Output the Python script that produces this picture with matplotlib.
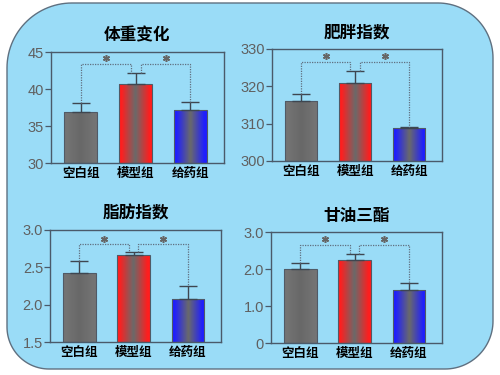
import numpy as np
import matplotlib
matplotlib.use("Agg")
import matplotlib.pyplot as plt
from matplotlib.path import Path
from matplotlib.patches import PathPatch

plt.rcParams['font.family'] = ['Noto Sans CJK SC', 'DejaVu Sans']

categories = ["空白组", "模型组", "给药组"]
titles = ["体重变化", "肥胖指数", "脂肪指数", "甘油三酯"]
means = [
    [36.9, 40.7, 37.2],
    [316.1, 320.9, 308.8],
    [2.43, 2.66, 2.07],
    [2.00, 2.24, 1.42],
]
errs = [
    [1.2, 1.5, 1.0],
    [1.8, 3.2, 0.3],
    [0.16, 0.04, 0.18],
    [0.15, 0.16, 0.19],
]
ylims = [(30, 45), (300, 330), (1.5, 3.0), (0, 3.0)]
yticks = [[30, 35, 40, 45], [300, 310, 320, 330], [1.5, 2.0, 2.5, 3.0], [0, 1.0, 2.0, 3.0]]
ytick_labels = [["30", "35", "40", "45"], ["300", "310", "320", "330"],
                ["1.5", "2.0", "2.5", "3.0"], ["0", "1.0", "2.0", "3.0"]]
bracket_y = [43.4, 326.5, 2.81, 2.65]
edge_colors = ["#747474", "#ff1e1e", "#1e1eff"]
center_colors = ["#686868", "#6a6a6a", "#6a6a6a"]

W, H = 500, 375
fig = plt.figure(figsize=(W / 100, H / 100), dpi=100)
fig.patch.set_facecolor("white")

# background rounded panel with per-corner radii (pixels)
def rounded_path(x0, y0, x1, y1, r_tl, r_tr, r_br, r_bl):
    def arc(cx, cy, r, a0, a1):
        t = np.linspace(np.radians(a0), np.radians(a1), 30)
        return [(cx + r * np.cos(a), cy + r * np.sin(a)) for a in t]
    pts = []
    pts += arc(x0 + r_bl, y0 + r_bl, r_bl, 180, 270)
    pts += arc(x1 - r_br, y0 + r_br, r_br, 270, 360)
    pts += arc(x1 - r_tr, y1 - r_tr, r_tr, 0, 90)
    pts += arc(x0 + r_tl, y1 - r_tl, r_tl, 90, 180)
    pts.append(pts[0])
    codes = [Path.MOVETO] + [Path.LINETO] * (len(pts) - 2) + [Path.CLOSEPOLY]
    pts = [(x / W, y / H) for x, y in pts]
    return Path(pts, codes)

bg = PathPatch(rounded_path(7, 6, 493, 372, 65, 55, 48, 42),
               facecolor="#9adcf7", edgecolor="#5f7080", lw=1.0,
               transform=fig.transFigure, zorder=-10)
fig.patches.append(bg)

positions = [
    [0.102, 0.5653, 0.346, 0.296],
    [0.544, 0.5707, 0.340, 0.2987],
    [0.100, 0.0880, 0.342, 0.2987],
    [0.542, 0.0853, 0.342, 0.296],
]

x = np.arange(len(categories))
bw = 0.6

def gradient(c_edge, c_center):
    ce = np.array(matplotlib.colors.to_rgb(c_edge))
    cc = np.array(matplotlib.colors.to_rgb(c_center))
    t = np.linspace(-1, 1, 64)
    w = np.clip(np.abs(t) * 1.15, 0, 1)
    img = (cc[None, :] * (1 - w[:, None]) + ce[None, :] * w[:, None])
    return img[None, :, :]

for i in range(4):
    ax = fig.add_axes(positions[i])
    ax.set_facecolor("none")
    ax.set_zorder(1)
    ylo, yhi = ylims[i]
    bars = ax.bar(x, [m - ylo for m in means[i]], bw, bottom=ylo,
                  color="none", edgecolor="#505a66", lw=0.8, zorder=3)
    for j, b in enumerate(bars):
        im = ax.imshow(gradient(edge_colors[j], center_colors[j]),
                       extent=[x[j] - bw / 2, x[j] + bw / 2, ylo, means[i][j]],
                       aspect="auto", zorder=2, interpolation="bilinear")
        im.set_clip_path(b)
    ax.set_aspect("auto")
    ax.set_xlim(-0.54, 2.61)
    ax.set_ylim(ylo, yhi)
    ax.errorbar(x, means[i], yerr=[np.zeros(3), errs[i]], fmt="none",
                ecolor="#3e4650", elinewidth=1.0, capsize=6.8, capthick=1.0, zorder=4)
    tops = [m + e for m, e in zip(means[i], errs[i])]
    by = bracket_y[i]
    off = 0.09
    lc = "#607080"
    ax.plot([x[0], x[0], x[1] - off, x[1] - off], [tops[0], by, by, tops[1]],
            ls=(0, (1, 1)), color=lc, lw=0.9, zorder=5)
    ax.plot([x[1] + off, x[1] + off, x[2], x[2]], [tops[1], by, by, tops[2]],
            ls=(0, (1, 1)), color=lc, lw=0.9, zorder=5)
    star_y = by + (yhi - ylo) * 0.05
    star_x = [(x[0] + x[1] - off) / 2, (x[1] + off + x[2]) / 2]
    ax.plot(star_x, [star_y, star_y], ls="none", marker=(6, 2, 0), ms=5,
            mew=1.1, color="#666666", zorder=6)
    for s in ax.spines.values():
        s.set_color("#4a5a6a")
        s.set_linewidth(1.0)
    ax.set_yticks(yticks[i])
    ax.set_yticklabels(ytick_labels[i], family="Liberation Sans", fontsize=10.5, color="#606060")
    ax.tick_params(axis="y", direction="out", length=4, width=0.9, color="#4a5a6a", pad=1)
    ax.set_xticks(x)
    ax.set_xticklabels(categories, fontsize=9, fontweight="bold", color="black")
    ax.tick_params(axis="x", length=0, pad=3)
    ax.set_title(titles[i], fontsize=12, fontweight="bold", color="black", pad=8)

fig.savefig("out.png", dpi=100, facecolor="white")
